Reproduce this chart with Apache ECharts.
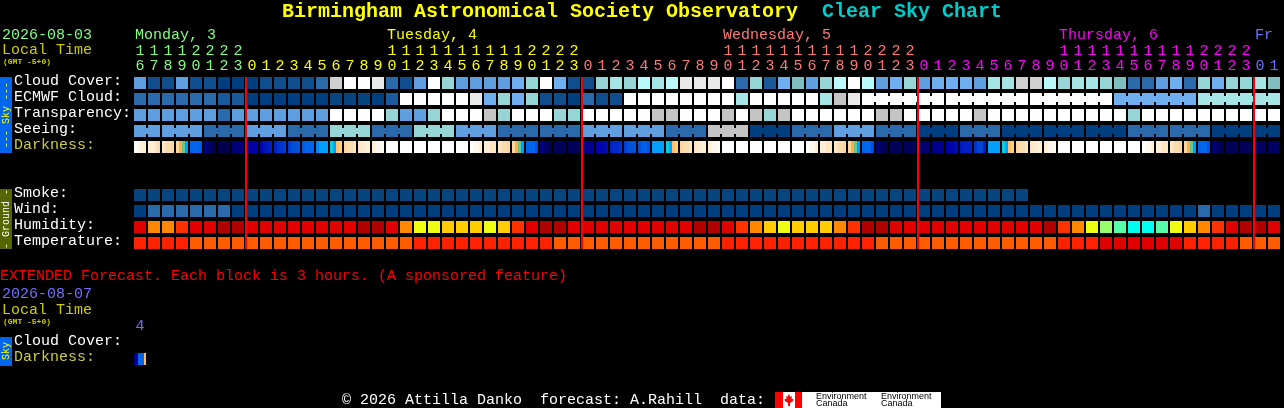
<!DOCTYPE html>
<html>
<head>
<meta charset="utf-8">
<style>html,body{margin:0;padding:0;background:#000;overflow:hidden}#c{width:1284px;height:408px}</style>
<script src="https://cdn.jsdelivr.net/npm/echarts@6/dist/echarts.min.js"></script>
</head>
<body>
<div id="c"></div>
<script>
const hours=[16,17,18,19,20,21,22,23,0,1,2,3,4,5,6,7,8,9,10,11,12,13,14,15,16,17,18,19,20,21,22,23,0,1,2,3,4,5,6,7,8,9,10,11,12,13,14,15,16,17,18,19,20,21,22,23,0,1,2,3,4,5,6,7,8,9,10,11,12,13,14,15,16,17,18,19,20,21,22,23,0,1];
const dayNames=['Monday, 3','Tuesday, 4','Wednesday, 5','Thursday, 6','Fr'];
const dayLabelCols=[0,18,42,66,80];
const dayFirstCols=[0,8,32,56,80];
const dayColors=['#80FF80','#FFFF00','#FF7878','#FF00FF','#7070FF'];
const rowLabels=['Cloud Cover:','ECMWF Cloud:','Transparency:','Seeing:','Darkness:','','','Smoke:','Wind:','Humidity:','Temperature:'];
const extRowLabels=['Cloud Cover:','Darkness:'];
const extHours=['4'];

const cloud=[3,1,1,3,1,1,0,0,0,1,1,1,1,2,9.5,11,11,10,2,1,3,11,6,3,3,3,3,4,6,11,4,1,1,6,7,6,8,7,8,10,10,10,11,2,6,1.5,4,5,3,6,8,11,8,3,4,6,3,4,4,4,3,7,7,9.5,9.5,8,6,7,7,6,5,2,2,3,4,2,6,4,6,6,7,5];
const ecmwf=[2,2,2,2,2,2,1.5,1.5,0,0,0,0,0,0,0.5,0.5,0.5,0,1.5,11,11,11,11,11,10,4,6,4,6,1,1,0,2,1,1,11,11,11,11,11,11,11,11,7,11,11,11,11,11,7,9,10,11,11,11,11,11,11,11,11,11,11,11,11,11,11,11,11,11,11,4,4,4,4,4,4,7,7,7,7,7,7];
const ecmwfBlocks=[[52,6],[58,6],[64,6],[70,6],[76,6]];
const transparency=[3,3,3,3,3,3,2,3,3,3,3,3,3,3,11,11,11,11,6,3,3,6,11,11,11,9,6,11,11,11,6,6,11,11,11,11,11,9,9,11,11,11,9,11,9,6,9,11,11,11,11,11,11,9,9,11,11,11,11,11,9,11,11,11,11,11,11,11,11,11,11,6,11,11,11,11,11,11,11,11,11,11];
const seeing=[3,3,3,3,3,2,2,2,3,3,3,2,2,2,6,6,6,2,2,2,6,6,6,3,3,3,2,2,2,2,2,2,3,3,3,3,3,3,2,2,2,9,9,9,0,0,0,2,2,2,3,3,3,2,2,2,0,0,0,2,2,2,0,0,0,0,0,0,0,0,0,2,2,2,2,2,2,0,0,0,0,0];
const seeingBlocks=[[0,2],[2,3],[5,3],[8,3],[11,3],[14,3],[17,3],[20,3],[23,3],[26,3],[29,3],[32,3],[35,3],[38,3],[41,3],[44,3],[47,3],[50,3],[53,3],[56,3],[59,3],[62,3],[65,3],[68,3],[71,3],[74,3],[77,3],[80,2]];
const smoke=[0.5,0.5,0.5,0.5,0.5,0.5,0.5,0.5,0.5,0.5,0.5,0.5,0.5,0.5,0.5,0.5,0.5,0.5,0.5,0.5,0.5,0.5,0.5,0.5,0.5,0.5,0.5,0.5,0.5,0.5,0.5,0.5,0.5,0.5,0.5,0.5,0.5,0.5,0.5,0.5,0.5,0.5,0.5,0.5,0.5,0.5,0.5,0.5,0.5,0.5,0.5,0.5,0.5,0.5,0.5,0.5,0.5,0.5,0.5,0.5,0.5,0.5,0.5,0.5];
const wind=[0,2,2,2,2,2,2,0,0,0,0,0,0,0,0,0,0,0,0,0,0,0,0,0,0,0,0,0,0,0,0,0,0,0,0,0,0,0,0,0,0,0,0,0,0,0,0,0,0,0,0,0,0,0,0,0,0,0,0,0,0,0,0,0,0,0,0,0,0,0,0,0,0,0,0,0,2,0,0,0,0,0];
const humidity=[1,3,3,2,1,1,0,0,1,1,1,1,1,1,1,1,0,0,1,3,5,5,4,4,4,5,4,2,1,0,0,1,1,1,1,1,1,1,1,1,0,0,1,2,3,4,5,4,4,4,3,2,0,0,1,1,1,1,1,1,1,1,1,1,1,0,2,3,5,6,7,8,8,7,5,4,3,2,1,0,0,1];
const temperature=[1,1,1,1,2,2,2,2,2,2,2,2,2,2,2,2,2,2,2,2,1,1,1,1,1,1,1,1,1,1,2,2,2,2,2,2,2,2,2,2,2,2,1,1,1,1,1,1,1,1,1,1,1,2,2,2,2,2,2,2,2,2,2,2,2,2,1,1,1,0,0,0,0,0,0,1,1,1,1,2,2,2];
const darkness=[[13,12.5,12,12],[12,12,11.5,11],[11.5,11,11,10.5],[10.5,9,8,6],[5,5,5,4.5],[1,0.7,0.3,0],[0,0,0,0],[0.8,0.8,1,1],[1.6,1.8,2,2],[2.2,2.6,2.8,3],[3,3.4,3.4,3.6],[3.6,4,4,4.2],[4.4,5,5,5],[5.6,6,6,6],[7,6,9.5,10],[10.5,11,11,11.5],[11.5,11.7,12,12],[12,12.5,12.5,12.8],[13,13,13,13],[13,13,13,13],[13,13,13,13],[13,13,13,13],[13,13,13,13],[13,13,13,13],[13,12.5,12.5,12],[12,12,11.5,11.5],[11.5,11,11,10.5],[10.5,9,8,6],[5,5,5,4.2],[1,0.6,0.3,0.2],[0.2,0.2,0.2,0.2],[0.2,0.2,0.3,0.4],[1.2,1.5,1.5,1.6],[2,2.2,2.2,2.4],[3,3.2,3.2,3.4],[3.6,4,4,4.2],[4,4.6,4.8,4.2],[6,6,6,6],[7,6,9.5,10],[10.5,11,11,11.5],[11.5,11.7,12,12],[12,12.5,12.5,12.8],[13,13,13,13],[13,13,13,13],[13,13,13,13],[13,13,13,13],[13,13,13,13],[13,13,13,13],[13,12.5,12.5,12],[12,12,11.5,11.5],[11.5,11,11,10.5],[10.5,9,8,6],[5,5,5,4],[0.8,0.5,0.2,0.2],[0.2,0.2,0.2,0.2],[0.2,0.2,0.3,0.4],[0.5,0.6,0.7,0.8],[1.2,1.3,1.4,1.5],[2,2.2,2.2,2.4],[2.8,3,3,3],[3.4,3.8,3.8,3],[6,6,6,6],[7,6,9.5,10],[10.5,11,11,11.5],[11.5,11.7,12,12],[12,12.5,12.5,12.8],[13,13,13,13],[13,13,13,13],[13,13,13,13],[13,13,13,13],[13,13,13,13],[13,13,13,13],[13,12.5,12.5,12],[12,12,11.5,11.5],[11.5,11,11,10.5],[10.5,9,8,6],[5,5,5,4.2],[0.8,0.6,0.3,0.2],[0.2,0.2,0.2,0.2],[0.2,0.2,0.2,0.2],[0.4,0.4,0.4,0.4],[0.4,0.4,0.4,0.4]];
const extDarkness=[[1.5,1.5,5,5,5,9.4]];

const skyColors={0:'#003F7F',0.5:'#08457F',1:'#0F4D8D',1.5:'#1A5A9A',2:'#2A69AA',3:'#5F9FDF',4:'#6FAFEF',5:'#7FBFBF',6:'#95D5D5',7:'#A5E5E5',8:'#B9F9F9',9:'#C4C4C4',9.5:'#D0D0D0',10:'#E8E8E8',11:'#FFFFFF'};
const humidityColors=['#B00000','#E00000','#FF3300','#FF8800','#FFCC00','#EEFF11','#99FF66','#55FFAA','#00FFEE'];
const temperatureColors=['#E00000','#FF2200','#FF5C00'];
const darknessRamp=['#00004F','#00007F','#0000A8','#0020C8','#0050D8','#0066EE','#009FFF','#00D0E8','#60C890','#FFB040','#FFD090','#F9DCB0','#FFEFD8','#FFFFFF'];

const MONO='"Liberation Mono",monospace';
function hex(c){return [1,3,5].map(i=>parseInt(c.substr(i,2),16));}
function rampColor(v){const a=Math.floor(v),b=Math.min(a+1,darknessRamp.length-1),t=v-a,p=hex(darknessRamp[a]),q=hex(darknessRamp[b]);
  return 'rgb('+p.map((x,i)=>Math.round(x+(q[i]-x)*t)).join(',')+')';}
function dayOf(col){let d=0;dayFirstCols.forEach((s,i)=>{if(col>=s)d=i;});return d;}
function joined(blocks,col){return blocks.some(b=>col>=b[0]&&col<b[0]+b[1]-1);}

function cellSeries(rowIndex,values,colorOf,blocks,x,y){
  return {type:'custom',coordinateSystem:'cartesian2d',xAxisIndex:x||0,yAxisIndex:y||0,silent:true,z:2,
    encode:{x:0,y:1},
    data:values.map((v,i)=>[i,rowIndex,v]),
    renderItem(params,api){
      const col=api.value(0),c=api.coord([col,rowIndex]),s=api.size([1,1]);
      const w=s[0]-2,h=s[1]-4,v=values[col],fill=colorOf(v);
      const kids=[{type:'rect',shape:{x:c[0]-w/2,y:c[1]-h/2,width:w,height:h},style:{fill}}];
      if(blocks&&joined(blocks,col))kids.push({type:'rect',shape:{x:c[0]+w/2,y:c[1]-h/2+3,width:2,height:h-6},style:{fill}});
      return {type:'group',children:kids};
    }};
}
function darkSeries(rowIndex,values,x,y){
  return {type:'custom',coordinateSystem:'cartesian2d',xAxisIndex:x||0,yAxisIndex:y||0,silent:true,z:2,
    encode:{x:0,y:1},
    data:values.map((v,i)=>[i,rowIndex]),
    renderItem(params,api){
      const col=api.value(0),c=api.coord([col,rowIndex]),s=api.size([1,1]);
      const w=s[0]-2,h=s[1]-4,v=values[col],stops=[];
      v.forEach((m,i)=>{const col2=rampColor(m);stops.push({offset:i/v.length,color:col2},{offset:(i+1)/v.length,color:col2});});
      return {type:'rect',shape:{x:c[0]-w/2,y:c[1]-h/2,width:w,height:h},
        style:{fill:new echarts.graphic.LinearGradient(0,0,1,0,stops)}};
    }};
}
const midnightCols=hours.map((h,i)=>h===0?i:-1).filter(i=>i>=0);
const midnightSeries={type:'custom',coordinateSystem:'cartesian2d',xAxisIndex:0,yAxisIndex:0,silent:true,z:5,
  encode:{x:0},data:midnightCols.map(c=>[c,0]),
  renderItem(params,api){
    const top=api.coord([api.value(0),0]),bot=api.coord([api.value(0),10]),s=api.size([1,1]);
    return {type:'rect',shape:{x:top[0]-s[0]/2,y:top[1]-s[1]/2+2,width:2,height:bot[1]-top[1]+s[1]-4},style:{fill:'#FF0000'}};
  }};
const dayLabelSeries={type:'custom',coordinateSystem:'cartesian2d',xAxisIndex:0,yAxisIndex:0,silent:true,z:5,
  encode:{x:0},data:dayLabelCols.map((c,i)=>[c,0,i]),
  renderItem(params,api){
    const i=api.value(2),c=api.coord([api.value(0),0]);
    return {type:'text',style:{x:c[0]-5,y:c[1]-48,text:dayNames[i],fill:dayColors[i],font:'15px '+MONO,textAlign:'left',textVerticalAlign:'middle'}};
  }};

const axisBase={axisLine:{show:false},axisTick:{show:false},splitLine:{show:false},boundaryGap:true};
const hourLabel=(margin)=>({show:true,interval:0,margin,fontFamily:MONO,fontSize:15,color:(v,i)=>dayColors[dayOf(i)],hideOverlap:false});
const rowLabelStyle={show:true,interval:0,align:'left',margin:119,verticalAlign:'bottom',lineHeight:4,fontFamily:MONO,fontSize:15,color:(v)=>v==='Darkness:'?'#CCCC44':'#FFFFFF'};

function txt(x,y,text,fill,font,extra){return Object.assign({type:'text',x,y,silent:true,z:10,style:{text,fill,font,textVerticalAlign:'middle'}},extra||{});}
function vtxt(x,y,text,fill){return {type:'text',x,y,rotation:Math.PI/2,silent:true,z:11,style:{text,fill,font:'10px '+MONO,textAlign:'center',textVerticalAlign:'middle'}};}
function box(x,y,w,h,fill){return {type:'rect',silent:true,z:9,shape:{x,y,width:w,height:h},style:{fill}};}

const option={
  backgroundColor:'#000',animation:false,
  grid:[{left:133,top:75,width:1148,height:176,containLabel:false},{left:133,top:335,width:14,height:32}],
  xAxis:[
    Object.assign({type:'category',gridIndex:0,position:'top',data:hours.map(h=>String(h%10)),axisLabel:hourLabel(1)},axisBase),
    Object.assign({type:'category',gridIndex:0,position:'top',offset:15,data:hours.map(h=>h>=10?String(Math.floor(h/10)):''),axisLabel:hourLabel(1)},axisBase),
    Object.assign({type:'category',gridIndex:1,position:'top',data:extHours,axisLabel:{show:true,interval:0,margin:1,fontFamily:MONO,fontSize:15,color:'#7070FF'}},axisBase)
  ],
  yAxis:[
    Object.assign({type:'category',gridIndex:0,inverse:true,data:rowLabels,axisLabel:rowLabelStyle},axisBase),
    Object.assign({type:'category',gridIndex:1,inverse:true,data:extRowLabels,axisLabel:rowLabelStyle},axisBase)
  ],
  series:[
    cellSeries(0,cloud,v=>skyColors[v]),
    cellSeries(1,ecmwf,v=>skyColors[v],ecmwfBlocks),
    cellSeries(2,transparency,v=>skyColors[v]),
    cellSeries(3,seeing,v=>skyColors[v],seeingBlocks),
    darkSeries(4,darkness),
    cellSeries(7,smoke,v=>skyColors[v]),
    cellSeries(8,wind,v=>skyColors[v]),
    cellSeries(9,humidity,v=>humidityColors[v]),
    cellSeries(10,temperature,v=>temperatureColors[v]),
    midnightSeries,dayLabelSeries,
    darkSeries(1,extDarkness,2,1)
  ],
  graphic:{elements:[
    txt(282,12,'Birmingham Astronomical Society Observatory','#FFFF00','bold 20px '+MONO),
    txt(822,12,'Clear Sky Chart','#00CCCC','bold 20px '+MONO),
    txt(2,35,'2026-08-03','#80FF80','15px '+MONO),
    txt(2,50,'Local Time','#CCCC00','15px '+MONO),
    txt(3,62,'(GMT -5+0)','#CCCC00','bold 8px '+MONO),
    box(0,77,12,76,'#0066EE'),vtxt(6,115,'--- Sky ---','#FFFF00'),
    box(0,189,12,60,'#556600'),vtxt(6,219,'- Ground -','#FFFFFF'),
    txt(0,276,'EXTENDED Forecast. Each block is 3 hours. (A sponsored feature)','#FF0000','15px '+MONO),
    txt(2,294,'2026-08-07','#7070FF','15px '+MONO),
    txt(2,310,'Local Time','#CCCC00','15px '+MONO),
    txt(3,322,'(GMT -5+0)','#CCCC00','bold 8px '+MONO),
    box(0,337,12,29,'#0066EE'),vtxt(6,351,'Sky','#FFFF00'),
    txt(342,400,'© 2026 Attilla Danko  forecast: A.Rahill  data:','#FFFFFF','15px '+MONO),
    box(775,392,27,16,'#FF0000'),box(783,392,12,16,'#FFFFFF'),
    {type:'polygon',silent:true,z:10,shape:{points:[[789,394],[790.5,397],[792,396],[791.5,399],[793.5,399],[793,401],[790,403],[790,406],[788,406],[788,403],[785,401],[784.5,399],[786.5,399],[786,396],[787.5,397]]},style:{fill:'#FF0000'}},
    box(802,392,139,16,'#FFFFFF'),
    txt(816,397,'Environment','#000','9px "Liberation Sans"'),
    txt(816,404,'Canada','#000','9px "Liberation Sans"'),
    txt(881,397,'Environment','#000','9px "Liberation Sans"'),
    txt(881,404,'Canada','#000','9px "Liberation Sans"')
  ]}
};
const chart=echarts.init(document.getElementById('c'),null,{renderer:'canvas',width:1284,height:408,devicePixelRatio:1});
chart.setOption(option);
</script>
</body>
</html>
